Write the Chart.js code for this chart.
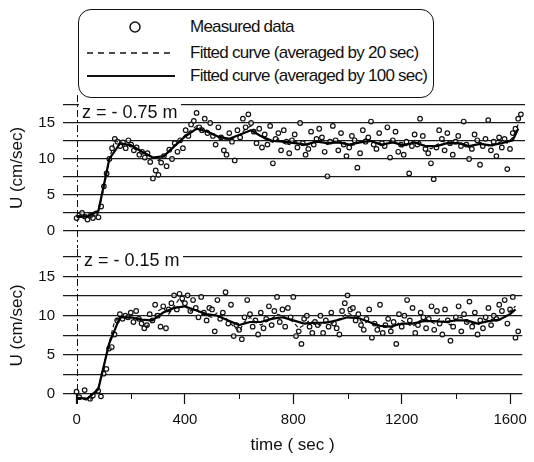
<!DOCTYPE html>
<html>
<head>
<meta charset="utf-8">
<script src="https://cdn.jsdelivr.net/npm/chart.js@4.4.0/dist/chart.umd.min.js"></script>
<style>
  body { margin: 0; width: 534px; height: 462px; position: relative; overflow: hidden; background: #fff;
         font-family: 'Liberation Sans', Arial, sans-serif; color: #111; }
  canvas { position: absolute; left: 0; }
  #upper { top: 88px; }
  #lower { top: 240px; }
  .legend-box { position: absolute; left: 78px; top: 9px; width: 356px; height: 89px; box-sizing: border-box;
                border: 1.5px solid #111; border-radius: 13px; background: #fff; }
  .legend-text { position: absolute; left: 190px; font-size: 17px; letter-spacing: -0.75px; line-height: 18px; white-space: nowrap; }
  .legend-mark { position: absolute; }
  .depth { position: absolute; font-size: 18px; line-height: 18px; background: #fff; padding: 0 3px; white-space: nowrap; }
</style>
</head>
<body>
<canvas id="upper" width="534" height="160"></canvas>
<canvas id="lower" width="534" height="222"></canvas>

<div class="legend-box"></div>
<svg class="legend-mark" style="left:80px;top:15px" width="100" height="70">
  <circle cx="55" cy="12" r="5" fill="none" stroke="#111" stroke-width="1.5"/>
  <line x1="7" y1="38" x2="95" y2="38" stroke="#111" stroke-width="1.5" stroke-dasharray="6 5"/>
  <line x1="7" y1="61" x2="95" y2="61" stroke="#111" stroke-width="1.8"/>
</svg>
<div class="legend-text" style="top:18px">Measured data</div>
<div class="legend-text" style="top:44px">Fitted curve (averaged by 20 sec)</div>
<div class="legend-text" style="top:67px">Fitted curve (averaged by 100 sec)</div>

<div class="depth" style="left:79px;top:103px">z = - 0.75 m</div>
<div class="depth" style="left:81px;top:251px">z = - 0.15 m</div>

<script>
// sampling instants (sec)
const sampleTimes = [
  0, 10, 20, 30, 40, 50, 60, 70, 80, 90, 100, 110, 120, 130, 140, 150, 160, 170, 180, 190,
  200, 210, 220, 230, 240, 250, 260, 270, 280, 290, 300, 310, 320, 330, 340, 350, 360, 370, 380, 390,
  400, 410, 420, 430, 440, 450, 460, 470, 480, 490, 500, 510, 520, 530, 540, 550, 560, 570, 580, 590,
  600, 610, 620, 630, 640, 650, 660, 670, 680, 690, 700, 710, 720, 730, 740, 750, 760, 770, 780, 790,
  800, 810, 820, 830, 840, 850, 860, 870, 880, 890, 900, 910, 920, 930, 940, 950, 960, 970, 980, 990,
  1000, 1010, 1020, 1030, 1040, 1050, 1060, 1070, 1080, 1090, 1100, 1110, 1120, 1130, 1140, 1150, 1160, 1170, 1180, 1190,
  1200, 1210, 1220, 1230, 1240, 1250, 1260, 1270, 1280, 1290, 1300, 1310, 1320, 1330, 1340, 1350, 1360, 1370, 1380, 1390,
  1400, 1410, 1420, 1430, 1440, 1450, 1460, 1470, 1480, 1490, 1500, 1510, 1520, 1530, 1540, 1550, 1560, 1570, 1580, 1590,
  1600, 1610, 1620, 1630
];
const curve20Times = [
  0, 20, 40, 60, 80, 100, 120, 140, 160, 180, 200, 220, 240, 260, 280, 300, 320, 340, 360, 380,
  400, 420, 440, 460, 480, 500, 520, 540, 560, 580, 600, 620, 640, 660, 680, 700, 720, 740, 760, 780,
  800, 820, 840, 860, 880, 900, 920, 940, 960, 980, 1000, 1020, 1040, 1060, 1080, 1100, 1120, 1140, 1160, 1180,
  1200, 1220, 1240, 1260, 1280, 1300, 1320, 1340, 1360, 1380, 1400, 1420, 1440, 1460, 1480, 1500, 1520, 1540, 1560, 1580,
  1600, 1620
];
const curve100Times = [
  0, 40, 80, 120, 160, 200, 240, 280, 320, 360, 400, 440, 480, 520, 560, 600, 640, 680, 720, 760,
  800, 840, 880, 920, 960, 1000, 1040, 1080, 1120, 1160, 1200, 1240, 1280, 1320, 1360, 1400, 1440, 1480, 1520, 1560,
  1600, 1620
];

// z = -0.75 m (cm/sec)
const upperMeasured = [
  1.8, 2.2, 2.5, 2.0, 1.6, 2.1, 1.8, 2.4, 1.9, 3.4,
  6.2, 8.0, 10.0, 11.5, 12.8, 12.4, 11.8, 12.3, 11.5, 12.6,
  12.0, 11.2, 11.6, 10.6, 11.0, 10.2, 10.8, 9.6, 7.3, 8.4,
  7.8, 9.5, 10.4, 9.0, 11.3, 10.0, 12.2, 11.0, 12.6, 11.5,
  14.0, 13.2, 14.8, 15.3, 16.4, 14.4, 14.0, 15.6, 13.6, 15.0,
  13.2, 12.0, 14.4, 13.0, 11.2, 10.6, 13.6, 12.4, 9.8, 14.0,
  13.0, 15.6, 14.4, 16.2, 15.0, 13.8, 12.2, 14.2, 11.6, 13.4,
  12.0, 14.6, 9.4, 12.8, 13.6, 11.2, 14.0, 12.4, 10.8, 12.6,
  13.4, 11.6, 15.0, 12.2, 10.6, 11.4, 13.8, 12.0, 12.8, 14.2,
  13.0, 11.0, 7.6, 12.4, 14.6, 12.6, 11.2, 13.6, 12.0, 10.4,
  11.6, 13.2, 12.6, 8.8, 10.8, 14.0, 12.4, 13.0, 15.2, 12.0,
  11.4, 13.6, 12.2, 11.8, 14.4, 10.2, 12.6, 13.8, 11.0, 12.0,
  10.6, 12.4, 8.0, 11.8, 13.4, 12.0, 15.6, 13.2, 11.4, 10.8,
  9.4, 7.2, 11.6, 14.0, 12.8, 11.2, 13.6, 12.2, 10.6, 12.4,
  13.2, 11.8, 15.2, 12.0, 10.0, 11.4, 13.4, 12.6, 9.2, 11.8,
  12.8, 15.4, 11.2, 12.4, 10.4, 13.0, 11.6, 12.8, 8.6, 11.4,
  13.6, 14.2, 15.6, 16.2
];
const upperCurve20 = [
  2.0, 2.3, 1.9, 2.0, 2.6, 6.0, 10.0, 12.6, 12.2, 11.8,
  12.0, 11.4, 11.0, 10.5, 10.2, 9.8, 10.4, 11.2, 12.0, 12.6,
  13.4, 14.0, 14.6, 14.2, 14.0, 13.4, 13.0, 12.7, 12.6, 13.0,
  13.4, 14.2, 14.6, 13.6, 13.0, 12.6, 12.3, 12.8, 12.2, 12.0,
  12.5, 12.1, 11.8, 12.2, 12.6, 12.4, 12.0, 12.3, 12.6, 12.2,
  11.8, 12.0, 12.4, 12.8, 12.5, 12.2, 11.8, 12.2, 12.7, 12.0,
  11.6, 12.2, 12.6, 12.4, 11.7, 11.4, 11.9, 12.5, 12.2, 12.0,
  12.4, 12.1, 11.6, 11.9, 12.3, 12.0, 11.7, 12.1, 12.5, 12.2,
  13.0, 14.8
];
const upperCurve100 = [
  2.0, 2.0, 2.8, 10.0, 12.2, 11.9, 11.0, 10.2, 10.4, 11.8,
  13.2, 14.2, 13.8, 13.1, 12.8, 13.4, 14.0, 13.1, 12.5, 12.4,
  12.2, 12.0, 12.4, 12.2, 12.3, 12.0, 12.3, 12.5, 12.0, 12.3,
  11.9, 12.3, 11.8, 11.8, 12.2, 12.2, 11.8, 12.1, 11.9, 12.2,
  12.6, 14.2
];

// z = -0.15 m (cm/sec)
const lowerMeasured = [
  0.3, -0.4, -0.9, 0.5, -1.0, -0.6, -0.2, -1.2, 0.4, -0.3,
  2.6, 3.2, 5.8, 6.0, 7.6, 9.4, 10.2, 9.6, 10.0, 9.8,
  10.4, 9.2, 10.6, 9.6, 9.0, 8.4, 8.8, 10.2, 9.4, 11.4,
  10.0, 8.6, 11.2, 8.4, 10.8, 11.6, 12.6, 10.8, 12.8, 12.2,
  11.6, 12.6, 10.6, 12.0, 11.0, 9.8, 12.4, 10.4, 9.4, 11.0,
  10.8, 8.0, 12.0, 9.6, 10.4, 13.0, 9.0, 11.4, 7.4, 8.8,
  8.2, 7.0, 9.8, 12.0, 10.2, 8.6, 9.4, 7.6, 10.4, 8.4,
  9.6, 11.2, 8.8, 10.6, 12.4, 9.2, 10.8, 8.6, 11.0, 9.8,
  12.4, 7.4, 8.0, 6.4, 9.6, 10.0, 8.6, 7.8, 9.2, 8.8,
  10.0, 7.8, 9.4, 8.6, 10.4, 9.0, 8.4, 7.6, 10.6, 11.6,
  12.6, 10.8, 11.0, 9.4, 10.2, 8.8, 8.2, 9.6, 10.8, 7.2,
  9.0, 8.2, 11.4, 7.8, 8.8, 9.6, 8.0, 9.2, 6.4, 10.2,
  8.6, 10.0, 12.0, 9.4, 11.0, 7.8, 8.8, 10.4, 9.8, 8.4,
  9.6, 11.2, 8.2, 10.6, 9.0, 7.6, 10.8, 9.4, 6.8, 8.6,
  9.8, 11.2, 8.0, 10.2, 9.2, 11.8, 8.6, 10.4, 7.6, 9.4,
  8.4, 9.8, 11.0, 8.8, 10.0, 9.6, 11.4, 10.6, 12.0, 9.0,
  10.8, 12.4, 7.2, 8.0
];
const lowerCurve20 = [
  -0.4, -0.6, -0.8, -0.5, 0.8, 3.5, 6.5, 9.2, 9.9, 9.8,
  9.7, 9.6, 9.4, 8.6, 9.6, 10.6, 11.0, 10.2, 11.2, 12.2,
  11.2, 10.6, 10.8, 10.2, 10.0, 9.8, 10.4, 10.0, 9.4, 8.6,
  8.0, 9.2, 9.8, 9.2, 8.8, 9.2, 9.6, 10.2, 10.0, 9.6,
  9.2, 8.4, 8.8, 9.4, 9.0, 8.8, 9.2, 9.0, 9.4, 9.8,
  10.4, 10.0, 9.6, 9.0, 9.4, 8.8, 8.4, 8.6, 8.4, 8.8,
  9.4, 9.0, 8.6, 9.2, 9.6, 9.4, 9.0, 9.6, 9.2, 8.8,
  9.6, 9.8, 9.2, 9.0, 8.8, 9.2, 9.4, 9.6, 9.4, 9.8,
  10.6, 11.2
];
const lowerCurve100 = [
  -0.5, -0.6, 0.6, 6.4, 9.8, 9.8, 9.5, 9.4, 10.4, 11.0,
  11.2, 10.7, 10.2, 10.0, 9.4, 8.8, 9.2, 9.2, 9.6, 9.8,
  9.4, 9.0, 9.1, 9.1, 9.4, 9.8, 9.7, 9.2, 8.7, 8.6,
  9.0, 9.0, 9.3, 9.3, 9.2, 9.4, 9.4, 9.0, 9.3, 9.5,
  10.2, 10.8
];

// axis ticks: labelled values and every tick position
const xTickLabels = [0, 400, 800, 1200, 1600];
const xTickValues = [0, 200, 400, 600, 800, 1000, 1200, 1400, 1600];
const yTickLabels = [0, 5, 10, 15];
const yTickValues = [0, 2.5, 5, 7.5, 10, 12.5, 15, 17.5];

Chart.defaults.font.family = "'Liberation Sans', Arial, sans-serif";
Chart.defaults.color = '#111';

function points(times, values) {
  return values.map((v, i) => ({ x: times[i], y: v }));
}

// dash-dot marker line at t = 0 plus the short minor ticks on the time axis
const timeMarks = {
  id: 'timeMarks',
  beforeDatasetsDraw(chart) {
    const { ctx, chartArea, scales } = chart;
    const x = Math.round(scales.x.getPixelForValue(0)) + 0.5;
    const showAxis = scales.x.options.display;
    ctx.save();
    ctx.strokeStyle = '#111';
    ctx.lineWidth = 1;
    ctx.setLineDash([7, 3, 2, 3]);
    ctx.beginPath();
    ctx.moveTo(x, showAxis ? chartArea.top - 8 : 7);
    ctx.lineTo(x, showAxis ? chartArea.bottom + 10 : chart.height);
    ctx.stroke();
    ctx.setLineDash([]);
    if (showAxis) {
      xTickValues.forEach(v => {
        if (xTickLabels.includes(v)) return;
        const px = Math.round(scales.x.getPixelForValue(v)) + 0.5;
        ctx.beginPath();
        ctx.moveTo(px, chartArea.bottom);
        ctx.lineTo(px, chartArea.bottom + 5);
        ctx.stroke();
      });
    }
    ctx.restore();
  }
};

function makePanel(id, measured, c20, c100, showTime) {
  return new Chart(document.getElementById(id), {
    type: 'scatter',
    data: {
      datasets: [
        {
          label: 'Measured data',
          data: points(sampleTimes, measured),
          pointStyle: 'circle',
          pointRadius: 2.3,
          pointBorderWidth: 1.2,
          borderColor: '#111',
          backgroundColor: 'rgba(255,255,255,0.6)',
          clip: false,
          order: 3
        },
        {
          label: 'Fitted curve (averaged by 20 sec)',
          data: points(curve20Times, c20),
          showLine: true,
          pointRadius: 0,
          borderColor: '#111',
          borderWidth: 1.2,
          borderDash: [4, 3],
          clip: false,
          order: 2
        },
        {
          label: 'Fitted curve (averaged by 100 sec)',
          data: points(curve100Times, c100),
          showLine: true,
          pointRadius: 0,
          borderColor: '#000',
          borderWidth: 2.2,
          clip: false,
          order: 1
        }
      ]
    },
    options: {
      responsive: false,
      animation: false,
      events: [],
      layout: { padding: { left: 0, right: 9, top: showTime ? 8 : 13, bottom: showTime ? 0 : 3 } },
      plugins: { legend: { display: false }, tooltip: { enabled: false } },
      scales: {
        x: {
          type: 'linear',
          display: showTime,
          min: -50,
          max: 1645,
          afterBuildTicks: s => { s.ticks = xTickValues.map(v => ({ value: v })); },
          afterFit: s => { if (s.options.display) s.height = 68; },
          border: { display: false },
          grid: {
            drawOnChartArea: false,
            tickLength: 10,
            tickWidth: 1.2,
            tickColor: c => (c.tick && xTickLabels.includes(c.tick.value)) ? '#111' : 'rgba(0,0,0,0)'
          },
          ticks: {
            autoSkip: false,
            padding: 7,
            maxRotation: 0,
            font: { size: 15 },
            callback: v => xTickLabels.includes(v) ? String(v) : ''
          },
          title: {
            display: true,
            text: 'time ( sec )',
            font: { size: 17 },
            padding: { top: 0, bottom: 6 }
          }
        },
        y: {
          min: 0,
          max: 17.5,
          afterBuildTicks: s => { s.ticks = yTickValues.map(v => ({ value: v })); },
          afterFit: s => { s.width = 63; },
          border: { display: false },
          grid: { color: '#1a1a1a', lineWidth: 1.3, drawTicks: false },
          ticks: {
            autoSkip: false,
            padding: 8,
            font: { size: 15 },
            callback: v => yTickLabels.includes(v) ? String(v) : ''
          },
          title: {
            display: true,
            text: 'U (cm/sec)',
            font: { size: 17 },
            padding: { top: 7, bottom: 0 }
          }
        }
      }
    },
    plugins: [timeMarks]
  });
}

makePanel('upper', upperMeasured, upperCurve20, upperCurve100, false);
makePanel('lower', lowerMeasured, lowerCurve20, lowerCurve100, true);
</script>
</body>
</html>
